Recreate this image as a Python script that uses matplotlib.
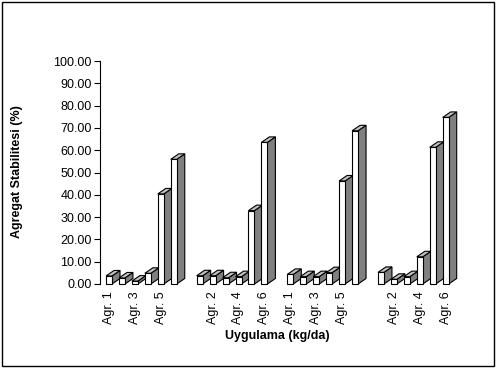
import matplotlib
matplotlib.use("Agg")
import matplotlib.pyplot as plt
from matplotlib.patches import Polygon, Rectangle

plt.rcParams['font.family'] = ['Liberation Sans', 'DejaVu Sans']

# ---- data ----
treatments = ["Agr. 1", "Agr. 2", "Agr. 3", "Agr. 4", "Agr. 5", "Agr. 6"]
group1 = [3.6, 2.7, 1.3, 4.8, 40.4, 55.9]
group2 = [3.7, 3.7, 2.8, 3.3, 32.9, 63.5]
group3 = [4.3, 3.3, 3.3, 5.1, 46.2, 68.7]
group4 = [5.2, 2.1, 3.3, 12.2, 61.3, 74.7]
groups = [group1, group2, group3, group4]
yticks = [0, 10, 20, 30, 40, 50, 60, 70, 80, 90, 100]

# categories along x axis, with a blank slot between groups
cat_labels = []
cat_values = []
for gi, g in enumerate(groups):
    cat_labels += treatments
    cat_values += g
    if gi < len(groups) - 1:
        cat_labels.append("")
        cat_values.append(None)

W, H = 498, 369
fig = plt.figure(figsize=(W / 100, H / 100), dpi=100)

# axes placement (pixels)
ax_l, ax_r, ax_t, ax_b = 100, 470, 61, 284
ax = fig.add_axes([ax_l / W, (H - ax_b) / H, (ax_r - ax_l) / W, (ax_b - ax_t) / H])

step_px = 12.95
first_center_px = 109
xmin = (ax_l - first_center_px) / step_px
xmax = (ax_r - first_center_px) / step_px
ax.set_xlim(xmin, xmax)
ax.set_ylim(0, 100)

px_x = (ax_r - ax_l) / (xmax - xmin)   # px per x unit
px_y = (ax_b - ax_t) / 100.0           # px per y unit

front_w = 6 / px_x
dx = 8 / px_x
dy = 5.5 / px_y

for i, v in enumerate(cat_values):
    if v is None:
        continue
    x0 = i - front_w / 2
    x1 = i + front_w / 2
    side = Polygon([(x1, 0), (x1 + dx, dy), (x1 + dx, v + dy), (x1, v)],
                   closed=True, facecolor='#808080', edgecolor='black', lw=0.8,
                   clip_on=False, zorder=3 + i * 0.01)
    top = Polygon([(x0, v), (x1, v), (x1 + dx, v + dy), (x0 + dx, v + dy)],
                  closed=True, facecolor='#c0c0c0', edgecolor='black', lw=0.8,
                  clip_on=False, zorder=3 + i * 0.01)
    front = Rectangle((x0, 0), front_w, v, facecolor='white', edgecolor='black',
                      lw=0.8, clip_on=False, zorder=3 + i * 0.01 + 0.005)
    ax.add_patch(side)
    ax.add_patch(top)
    ax.add_patch(front)

for s in ['top', 'right', 'bottom']:
    ax.spines[s].set_visible(False)
ax.spines['left'].set_linewidth(0.8)

ax.set_yticks(yticks)
ax.set_yticklabels([f"{t:.2f}" for t in yticks], fontsize=9)
ax.tick_params(axis='y', direction='out', length=4, width=0.8, pad=2)

xt = list(range(0, len(cat_labels), 2))
ax.set_xticks(xt)
ax.set_xticklabels([cat_labels[i] for i in xt], rotation=90, fontsize=9)
ax.tick_params(axis='x', length=0, pad=5.5)

fig.text(17 / W, 1 - 172 / H, "Agregat Stabilitesi (%)", rotation=90,
         ha='center', va='center', fontsize=9, fontweight='bold')
fig.text(277 / W, 1 - 336 / H, "Uygulama (kg/da)", ha='center', va='center',
         fontsize=9, fontweight='bold')

border = Rectangle((2 / W, 3 / H), 492 / W, 364 / H, transform=fig.transFigure,
                   fill=False, edgecolor='black', lw=1)
fig.patches.append(border)

fig.savefig("out.png", dpi=100)
